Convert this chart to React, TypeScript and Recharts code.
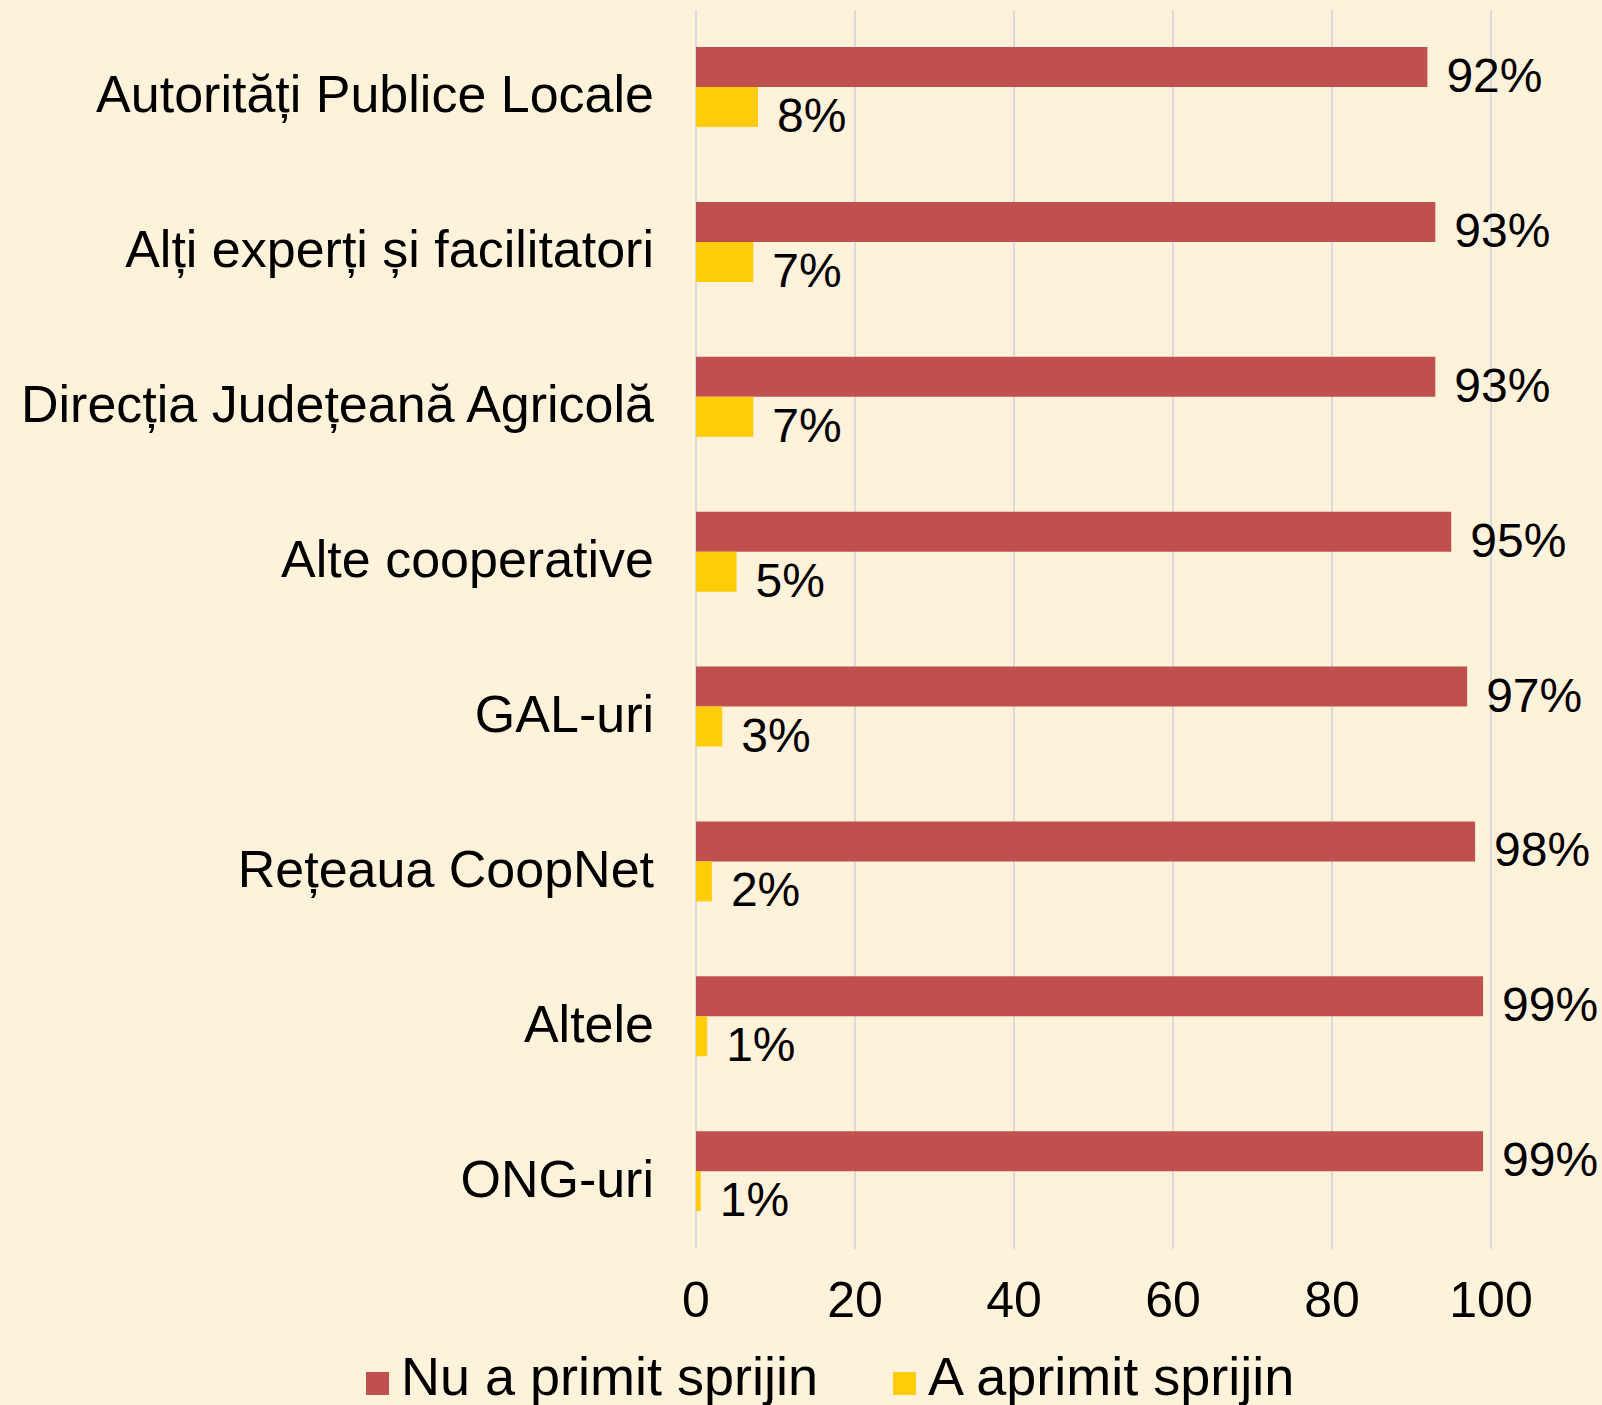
import React from 'react';
import { BarChart, Bar, XAxis, YAxis, CartesianGrid, Legend, LabelList } from 'recharts';

const categories = [
  'Autorități Publice Locale',
  'Alți experți și facilitatori',
  'Direcția Județeană Agricolă',
  'Alte cooperative',
  'GAL-uri',
  'Rețeaua CoopNet',
  'Altele',
  'ONG-uri',
];
const notSupported = [92, 93, 93, 95, 97, 98, 99, 99];
const supported = [7.8, 7.2, 7.2, 5.1, 3.3, 2.0, 1.4, 0.6];
const xTicks = [0, 20, 40, 60, 80, 100];
const seriesNames = ['Nu a primit sprijin', 'A aprimit sprijin'];

const RED = '#C0504D';
const YELLOW = '#FFCC0A';
const BG = '#FFF2DB';
const FONT = '"Liberation Sans", Arial, sans-serif';
const FS_CAT = 52;
const FS_TICK = 50;
const FS_VAL = 48;
const FS_LEG = 54;

const data = categories.map((name, i) => ({ name, nu: notSupported[i], da: supported[i] }));

const YTick = (props: any) => {
  const { x, y, payload } = props;
  return (
    <text x={x} y={y} dy={25} textAnchor="end" fontSize={FS_CAT} fontFamily={FONT} fill="#000">
      {payload.value}
    </text>
  );
};

const XTick = (props: any) => {
  const { x, y, payload } = props;
  return (
    <text x={x} y={y} dy={68} textAnchor="middle" fontSize={FS_TICK} fontFamily={FONT} fill="#000">
      {payload.value}
    </text>
  );
};

const ValueLabel = (props: any) => {
  const { x, y, width, height, value } = props;
  return (
    <text x={x + width + 19} y={y + height / 2 + 25} fontSize={FS_VAL} fontFamily={FONT} fill="#000">
      {Math.round(value)}%
    </text>
  );
};

const LegendContent = () => {
  const colors = [RED, YELLOW];
  return (
    <div style={{ display: 'flex', alignItems: 'center', paddingLeft: 366, fontSize: FS_LEG, fontFamily: FONT, lineHeight: `${FS_LEG}px`, color: '#000' }}>
      {seriesNames.map((n, i) => (
        <div key={n} style={{ display: 'flex', alignItems: 'center', marginRight: 75 }}>
          <span style={{ display: 'inline-block', width: 23, height: 23, background: colors[i], marginRight: 12, position: 'relative', top: 7 }} />
          <span style={{ whiteSpace: 'nowrap' }}>{n}</span>
        </div>
      ))}
    </div>
  );
};

export default function App() {
  return (
    <div style={{ position: 'absolute', left: 0, top: 0, width: 1602, height: 1405, background: BG }}>
      <BarChart
        width={1602}
        height={1405}
        data={data}
        layout="vertical"
        margin={{ top: 10, right: 111, bottom: 86, left: 0 }}
        barGap={0}
        barSize={40}
      >
        <CartesianGrid horizontal={false} vertical={true} stroke="#D9D9D9" strokeWidth={2} />
        <XAxis
          type="number"
          domain={[0, 100]}
          ticks={xTicks}
          axisLine={false}
          tickLine={false}
          tickSize={0}
          tickMargin={0}
          height={70}
          tick={<XTick />}
          interval={0}
        />
        <YAxis
          type="category"
          dataKey="name"
          width={696}
          axisLine={false}
          tickLine={false}
          tickSize={0}
          tickMargin={42}
          tick={<YTick />}
          interval={0}
        />
        <Legend
          layout="horizontal"
          verticalAlign="middle"
          align="center"
          wrapperStyle={{ left: 0, top: 1349, width: 1602 }}
          content={<LegendContent />}
        />
        <Bar dataKey="nu" name={seriesNames[0]} fill={RED} isAnimationActive={false}>
          <LabelList dataKey="nu" content={<ValueLabel />} />
        </Bar>
        <Bar dataKey="da" name={seriesNames[1]} fill={YELLOW} isAnimationActive={false}>
          <LabelList dataKey="da" content={<ValueLabel />} />
        </Bar>
      </BarChart>
    </div>
  );
}
